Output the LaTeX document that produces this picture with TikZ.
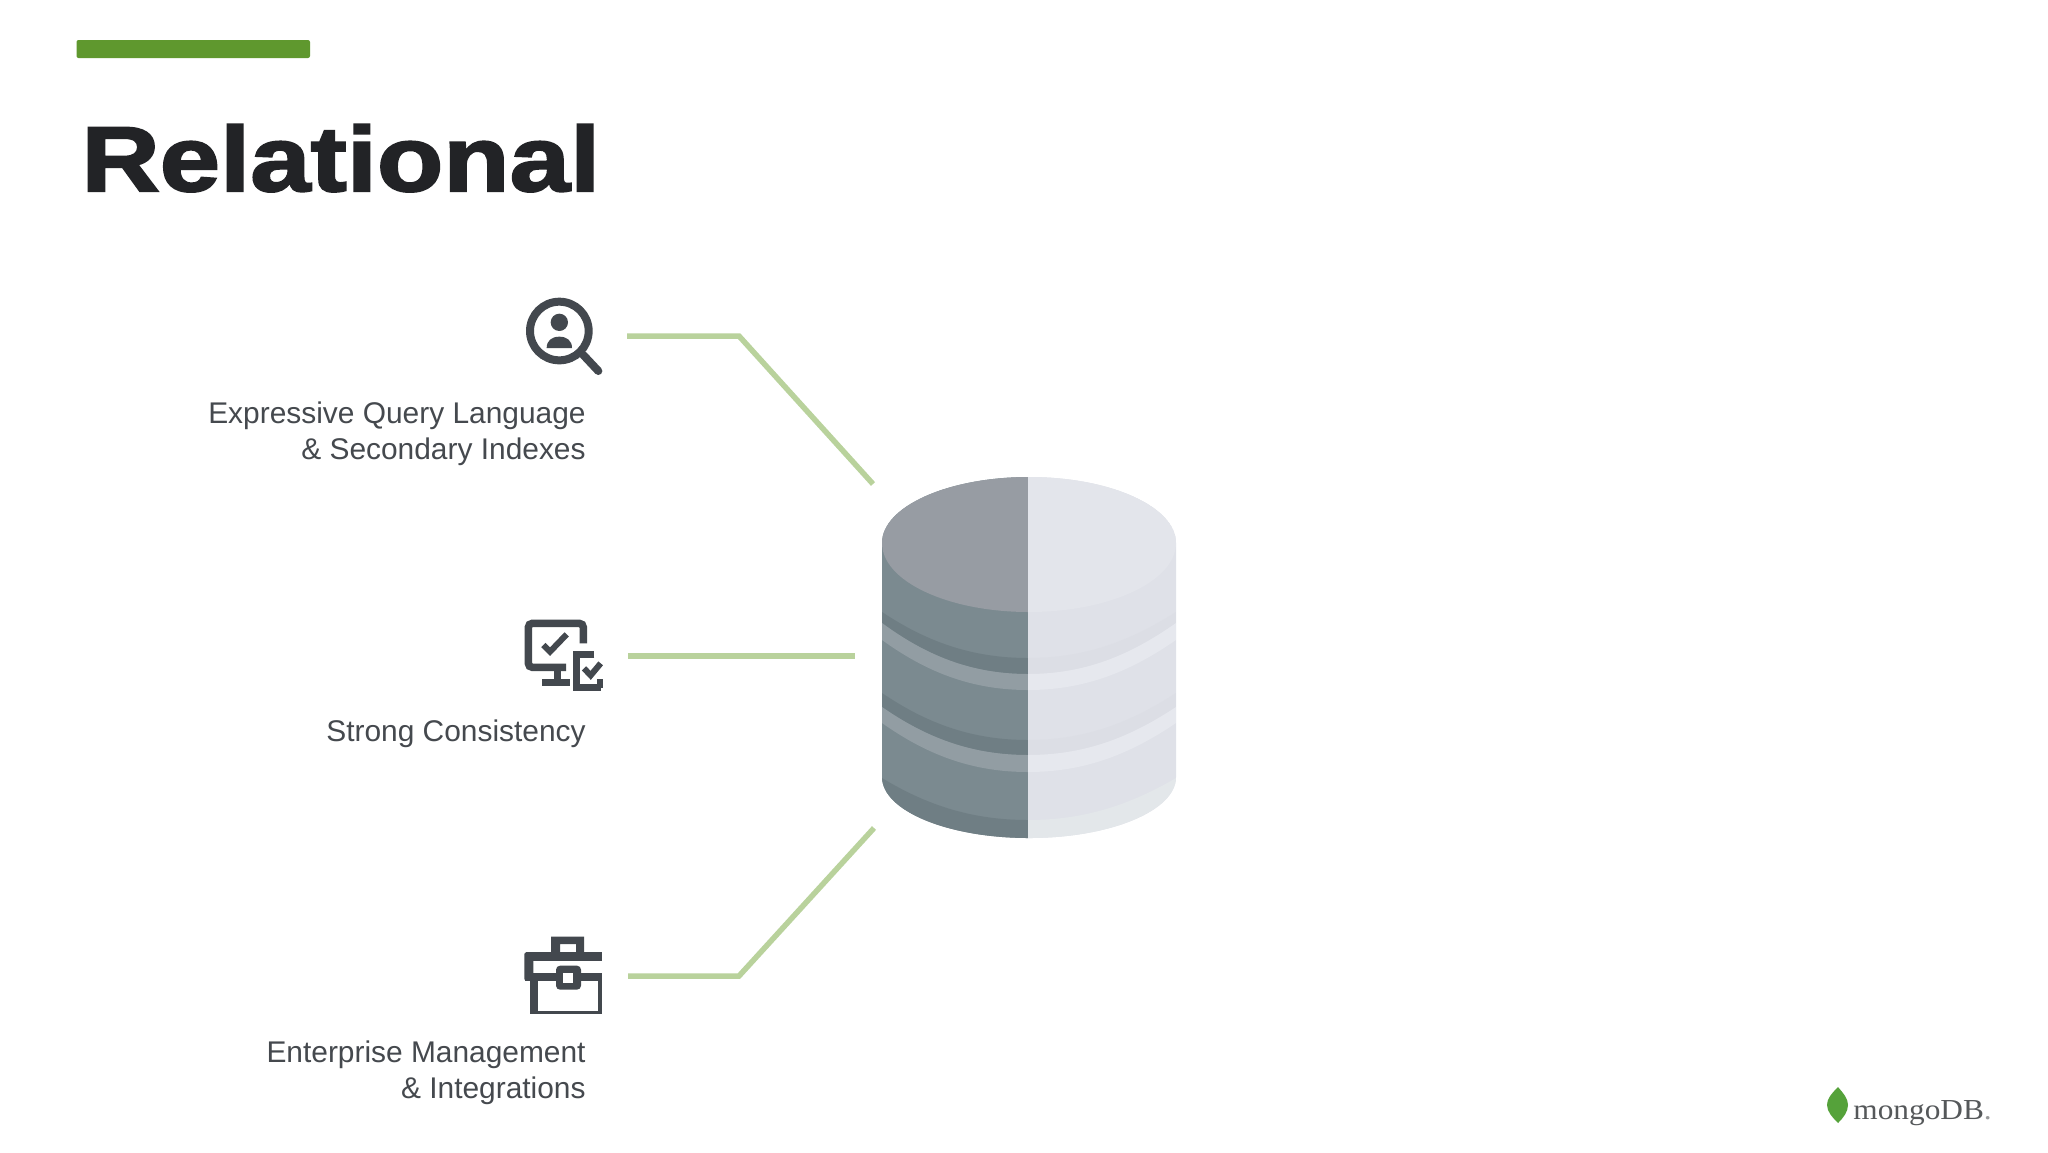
\documentclass[tikz,border=0pt]{standalone}
\usepackage{fontspec}
\setmainfont{Liberation Sans}
\newfontfamily\titlefont[FakeBold=2.3,FakeStretch=1.18]{Liberation Sans Bold}
\newfontfamily\logofont[FakeStretch=1.08]{Liberation Serif}
\definecolor{barG}{HTML}{5F982E}
\definecolor{lineG}{HTML}{B9D29C}
\definecolor{ink}{HTML}{43484E}
\definecolor{labelC}{HTML}{45494E}
\definecolor{titleC}{HTML}{222326}
\definecolor{Ltop}{HTML}{979CA3}
\definecolor{Lbody}{HTML}{7B8A90}
\definecolor{Ldark}{HTML}{6F7E84}
\definecolor{Llight}{HTML}{929DA3}
\definecolor{Rtop}{HTML}{E3E5EB}
\definecolor{Rbody}{HTML}{DFE1E8}
\definecolor{Rdark}{HTML}{DCDEE5}
\definecolor{Rlight}{HTML}{E6E8EE}
\definecolor{Rbot}{HTML}{E3E7EA}
\definecolor{leafG}{HTML}{55A23A}
\definecolor{logoC}{HTML}{55585A}
\newlength{\unitpx}\setlength{\unitpx}{0.5pt}
\tikzset{
  link/.style={draw=lineG,line width=5.5\unitpx,line join=miter},
  lab/.style={anchor=base east,inner sep=0pt,text=labelC,font=\fontsize{14.95}{18}\selectfont},
  iconline/.style={draw=ink,line width=7.5\unitpx,fill=none,line join=miter},
  iconfine/.style={draw=ink,line width=6\unitpx,fill=none,line join=miter},
  zoomed/.style={x=0.16667pt,y=-0.16667pt}
}
\newcommand{\bandpath}[4]{%
  (882,#1) .. controls (925,#1+0.62*#2-0.62*#1) and (970,#2) .. (1028,#2)
  .. controls (1086,#2) and (1131,#1+0.62*#2-0.62*#1) .. (1176,#1)
  -- (1176,#3) .. controls (1131,#3+0.62*#4-0.62*#3) and (1086,#4) .. (1028,#4)
  .. controls (970,#4) and (925,#3+0.62*#4-0.62*#3) .. (882,#3) -- cycle}
\newcommand{\disc}{(882,543) arc[start angle=180,end angle=360,x radius=147,y radius=66]
   arc[start angle=0,end angle=180,x radius=147,y radius=69] -- cycle}
\newcommand{\silhouette}{(882,543) arc[start angle=180,end angle=360,x radius=147,y radius=66] -- (1176,777)
   arc[start angle=0,end angle=180,x radius=147,y radius=61] -- cycle}
\begin{document}
\begin{tikzpicture}[x=0.5pt,y=-0.5pt]
\useasboundingbox (0,0) rectangle (2048,1152);
\fill[white] (0,0) rectangle (2048,1152);
% bar and title
\fill[barG,rounded corners=1pt] (76.5,40) rectangle (310,58);
\node[anchor=base west,inner sep=0pt,text=titleC,font=\titlefont\fontsize{46}{56}\selectfont] (title) at (81,191) {Relational};
% cylinder
\begin{scope}
 \clip \silhouette;
 \begin{scope}
  \clip (800,440) rectangle (1028,880);
  \fill[Lbody] (800,440) rectangle (1028,880);
  \fill[Ldark] \bandpath{612}{658}{623}{674};
  \fill[Llight] \bandpath{623}{674}{640}{690};
  \fill[Ldark] \bandpath{693}{740}{707}{755};
  \fill[Llight] \bandpath{707}{755}{723}{772};
  \fill[Ldark] \bandpath{778}{820}{860}{860};
  \fill[Ltop] \disc;
 \end{scope}
 \begin{scope}
  \clip (1028,440) rectangle (1200,880);
  \fill[Rbody] (1028,440) rectangle (1200,880);
  \fill[Rdark] \bandpath{612}{658}{623}{674};
  \fill[Rlight] \bandpath{623}{674}{640}{690};
  \fill[Rdark] \bandpath{693}{740}{707}{755};
  \fill[Rlight] \bandpath{707}{755}{723}{772};
  \fill[Rbot] \bandpath{778}{820}{860}{860};
  \fill[Rtop] \disc;
 \end{scope}
\end{scope}
% connectors
\coordinate (q1) at (627,336); \coordinate (q1k) at (739,336); \coordinate (q1e) at (873,484);
\coordinate (q2) at (628,656); \coordinate (q2e) at (855,656);
\coordinate (q3) at (628,976); \coordinate (q3k) at (739,976); \coordinate (q3e) at (874,828);
\draw[link] (q1) -- (q1k) -- (q1e);
\draw[link] (q2) -- (q2e);
\draw[link] (q3) -- (q3k) -- (q3e);
% magnifier icon
\begin{scope}[shift={(500,270)},zoomed]
 \draw[ink,line width=8\unitpx] (178,183) circle[radius=88];
 \draw[ink,line width=8\unitpx,line cap=round] (250,255) -- (295,303);
 \fill[ink] (178,157) circle[radius=26];
 \fill[ink] (140,234) .. controls (140,212) and (155,200) .. (178,200) .. controls (201,200) and (216,212) .. (216,234) -- cycle;
\end{scope}
% monitor icon
\begin{scope}[shift={(500,600)},zoomed]
 \draw[iconline,rounded corners=2pt] (250,130) -- (250,70) -- (85,70) -- (85,202) -- (198,202);
 \draw[iconline] (172,202) -- (172,247);
 \draw[iconline] (127,247) -- (210,247);
 \draw[iconfine] (130,135) -- (150,155) -- (200,103);
 \draw[iconline] (283,163) -- (230,163) -- (230,263) -- (303,263);
 \draw[iconfine] (300,263) -- (300,238);
 \draw[iconfine] (252,205) -- (272,226) -- (302,190);
\end{scope}
% briefcase icon
\begin{scope}[shift={(500,920)},zoomed]
 \fill[ink,even odd rule] (153,50) rectangle (252,100) (180,72) rectangle (228,100);
 \fill[ink] (78,97) rectangle (305,122);
 \fill[ink,rounded corners=1pt] (73,97) rectangle (100,182);
 \fill[ink] (75,160) rectangle (170,183);
 \fill[ink] (240,160) rectangle (305,183);
 \fill[ink] (90,180) rectangle (115,282);
 \fill[ink] (90,272) rectangle (305,282);
 \fill[ink] (295,180) rectangle (305,282);
 \fill[ink,rounded corners=2pt] (168,137) rectangle (243,209);
 \fill[white] (188,158) rectangle (218,188);
\end{scope}
% labels
\node[lab] (l1a) at (586,423) {Expressive Query Language};
\node[lab] (l1b) at (586,459) {\& Secondary Indexes};
\node[lab] (l2) at (586,741) {Strong Consistency};
\node[lab] (l3a) at (586,1062) {Enterprise Management};
\node[lab] (l3b) at (586,1098) {\& Integrations};
% logo
\fill[leafG] (1838,1087) .. controls (1831,1094) and (1827,1099) .. (1827,1105)
  .. controls (1827,1112) and (1833,1118) .. (1838,1123)
  .. controls (1843,1118) and (1848,1112) .. (1848,1105)
  .. controls (1848,1099) and (1844,1094) .. (1838,1087) -- cycle;
\node[anchor=base west,inner sep=0pt,text=logoC,font=\logofont\fontsize{14.5}{16}\selectfont] (logo) at (1853,1119) {mongoDB\textcolor{logoC!60}{.}};
\end{tikzpicture}
\end{document}
